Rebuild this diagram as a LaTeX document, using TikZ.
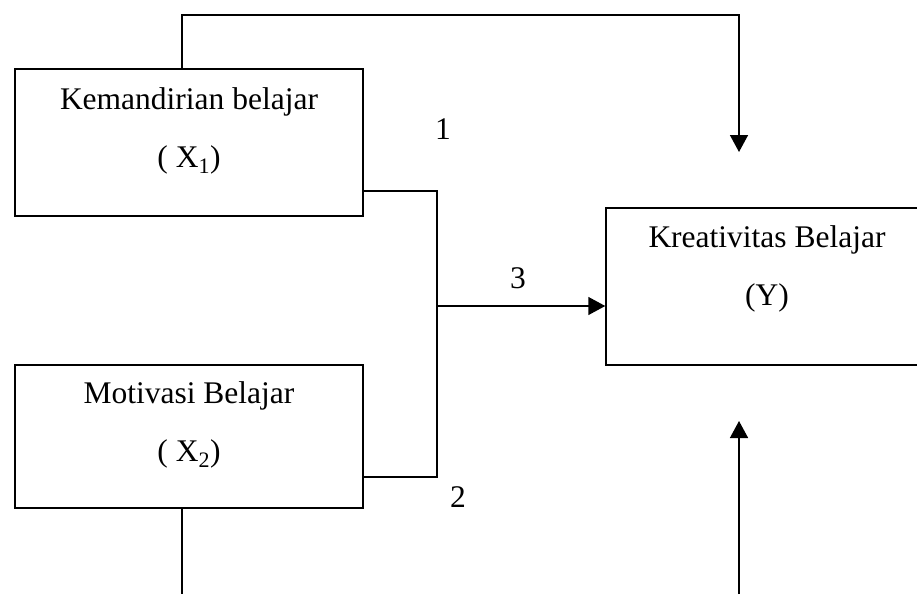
\documentclass[tikz,border=0pt]{standalone}
\usepackage{fontspec}
\setmainfont{Liberation Serif}
\usetikzlibrary{arrows.meta,calc}

\begin{document}
\begin{tikzpicture}[x=1pt, y=-1pt, line width=1.5pt,
    varbox/.style={draw, rectangle, inner sep=0pt},
    vartext/.style={align=center, font=\fontsize{31.5}{58}\selectfont},
    numlabel/.style={font=\fontsize{31.5}{36}\selectfont},
    arr/.style={-{Triangle[length=17pt,width=18pt]}}]
    \useasboundingbox (0,0) rectangle (917,594);

    % Variable boxes
    \node[varbox, minimum width=348pt, minimum height=147pt] (x1) at (189,142.5) {};
    \node[vartext] (x1t) at (189,131) {Kemandirian belajar\\( X\textsubscript{1})};
    \node[varbox, minimum width=348pt, minimum height=143pt] (x2) at (189,436.5) {};
    \node[vartext] (x2t) at (189,425) {Motivasi Belajar\\( X\textsubscript{2})};
    \node[varbox, minimum width=322pt, minimum height=157pt] (y) at (767,286.5) {};
    \node[vartext] (yt) at (767,269) {Kreativitas Belajar\\(Y)};

    % Junction of X1 and X2
    \coordinate (j1) at (437,191);
    \coordinate (j2) at (437,477);
    \coordinate (jm) at (437,306);
    \draw (x1.east |- j1) -- (j1) -- (j2) -- (x2.east |- j2);
    \draw[arr] (jm) -- (y.west |- jm);

    % Direct path X1 -> Y
    \coordinate (t1) at (182,15);
    \coordinate (t2) at (739,15);
    \coordinate (ytop) at (739,152);
    \draw[arr] (t1 |- x1.north) -- (t1) -- (t2) -- (ytop);

    % Direct path X2 -> Y
    \coordinate (b1) at (182,594);
    \coordinate (b2) at (739,594);
    \coordinate (ybot) at (739,421);
    \draw (b1 |- x2.south) -- (b1);
    \draw[arr] (b2) -- (ybot);

    % Path labels
    \node[numlabel] (n1) at (443,129) {1};
    \node[numlabel] (n3) at (518,278) {3};
    \node[numlabel] (n2) at (458,497) {2};
\end{tikzpicture}
\end{document}
